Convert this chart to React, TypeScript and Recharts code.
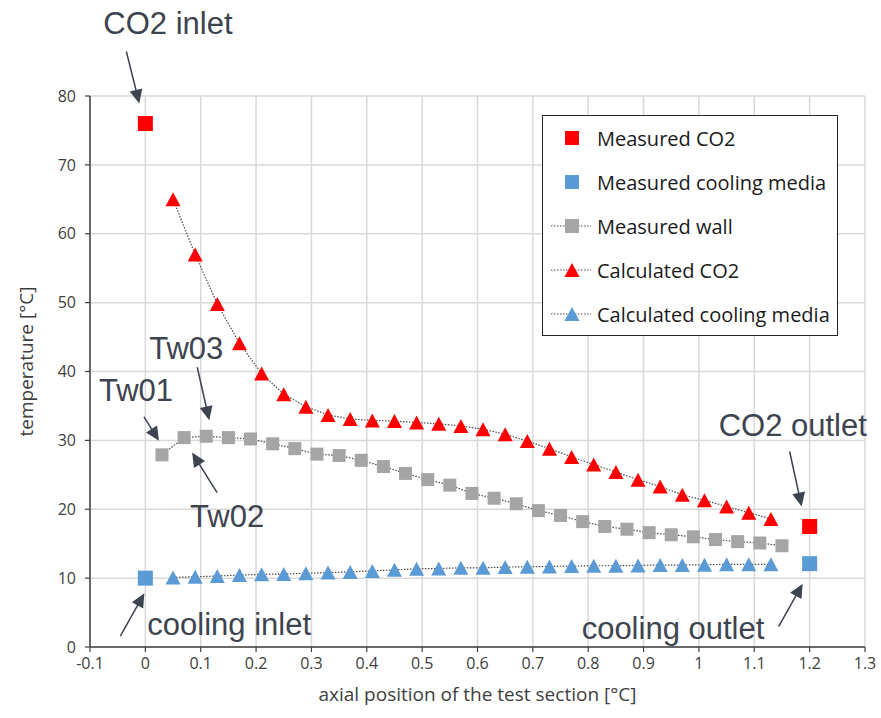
import React from "react";
import {
  ComposedChart,
  Scatter,
  XAxis,
  YAxis,
  CartesianGrid,
  Legend,
  Label,
  ReferenceDot,
} from "recharts";

// axis ticks
const xTicks = [-0.1, 0, 0.1, 0.2, 0.3, 0.4, 0.5, 0.6, 0.7, 0.8, 0.9, 1, 1.1, 1.2, 1.3];
const yTicks = [0, 10, 20, 30, 40, 50, 60, 70, 80];

// inlet / outlet measurements
const measuredPositions = [0, 1.2];
const measuredCO2 = [76, 17.5];
const measuredCooling = [10.0, 12.1];

// wall thermocouples Tw01 ... Tw29
const wallPositions = [
  0.03, 0.07, 0.11, 0.15, 0.19, 0.23, 0.27, 0.31, 0.35, 0.39, 0.43, 0.47, 0.51, 0.55, 0.59,
  0.63, 0.67, 0.71, 0.75, 0.79, 0.83, 0.87, 0.91, 0.95, 0.99, 1.03, 1.07, 1.11, 1.15,
];
const measuredWall = [
  27.9, 30.4, 30.6, 30.4, 30.2, 29.5, 28.8, 28.0, 27.8, 27.1, 26.2, 25.2, 24.3, 23.5, 22.3,
  21.6, 20.8, 19.8, 19.1, 18.2, 17.5, 17.1, 16.6, 16.3, 16.0, 15.6, 15.3, 15.1, 14.7,
];

// calculated bulk temperatures between the wall stations
const calcPositions = [
  0.05, 0.09, 0.13, 0.17, 0.21, 0.25, 0.29, 0.33, 0.37, 0.41, 0.45, 0.49, 0.53, 0.57,
  0.61, 0.65, 0.69, 0.73, 0.77, 0.81, 0.85, 0.89, 0.93, 0.97, 1.01, 1.05, 1.09, 1.13,
];
const calcCO2 = [
  65.0, 57.0, 49.8, 44.1, 39.7, 36.7, 34.9, 33.7, 33.1, 32.9, 32.8, 32.6, 32.4, 32.1,
  31.6, 30.9, 29.9, 28.8, 27.6, 26.5, 25.4, 24.3, 23.3, 22.1, 21.3, 20.4, 19.5, 18.6,
];
const calcCooling = [
  10.1, 10.2, 10.3, 10.45, 10.55, 10.6, 10.7, 10.8, 10.9, 11.05, 11.2, 11.35, 11.4, 11.5,
  11.5, 11.6, 11.65, 11.7, 11.75, 11.8, 11.8, 11.85, 11.9, 11.9, 11.95, 12.0, 12.0, 12.0,
];

const RED = "#ff0000";
const BLUE = "#5b9bd5";
const GREY = "#a5a5a5";
const INK = "#404040";
const NOTE = "#3d4450";
const SANS = "'Open Sans', sans-serif";

const zip = (xs: number[], ys: number[]) => xs.map((x, i) => ({ x, y: ys[i] }));

const dotted = { stroke: "#4a4a4a", strokeWidth: 1.2, strokeDasharray: "1.5 1.5" };

const square = (size: number, color: string) => (p: any) =>
  <rect x={p.cx - size / 2} y={p.cy - size / 2} width={size} height={size} fill={color} />;

const triangle = (w: number, h: number, color: string) => (p: any) =>
  <polygon
    points={`${p.cx},${p.cy - h / 2} ${p.cx + w / 2},${p.cy + h / 2} ${p.cx - w / 2},${p.cy + h / 2}`}
    fill={color}
  />;

// callouts: anchored on a data point, offsets in px for arrow tip, arrow tail and text
const notes = [
  { label: "CO2 inlet", x: 0, y: 76, tip: [-6, -20], tail: [-19, -72], text: [-42, -90] },
  { label: "Tw01", x: 0.03, y: 27.9, tip: [-3, -14], tail: [-18, -38], text: [-63, -54] },
  { label: "Tw03", x: 0.11, y: 30.6, tip: [3, -16], tail: [-9, -69], text: [-57, -77] },
  { label: "Tw02", x: 0.07, y: 30.4, tip: [8, 15], tail: [33, 55], text: [6, 89] },
  { label: "CO2 outlet", x: 1.2, y: 17.5, tip: [-8, -20], tail: [-20, -75], text: [-91, -90] },
  { label: "cooling inlet", x: 0, y: 10.0, tip: [-1, 15], tail: [-25, 58], text: [2, 57] },
  { label: "cooling outlet", x: 1.2, y: 12.1, tip: [-7, 20], tail: [-31, 63], text: [-228, 75] },
];

function Callout({ cx, cy, note }: any) {
  const tx = cx + note.tip[0];
  const ty = cy + note.tip[1];
  const sx = cx + note.tail[0];
  const sy = cy + note.tail[1];
  const len = Math.hypot(tx - sx, ty - sy);
  const ux = (tx - sx) / len;
  const uy = (ty - sy) / len;
  const hl = 14;
  const hw = 6.5;
  const bx = tx - ux * hl;
  const by = ty - uy * hl;
  const head = `${tx},${ty} ${bx - uy * hw},${by + ux * hw} ${bx + uy * hw},${by - ux * hw}`;
  return (
    <g>
      <line x1={sx} y1={sy} x2={bx + ux * 2} y2={by + uy * 2} stroke={NOTE} strokeWidth={1.5} />
      <polygon points={head} fill={NOTE} />
      <text
        x={cx + note.text[0]}
        y={cy + note.text[1]}
        fontSize={31}
        fontFamily="'Liberation Sans', Arial, sans-serif"
        fill={NOTE}
      >
        {note.label}
      </text>
    </g>
  );
}

const legendItems = [
  { name: "Measured CO2", color: RED, mark: "square", line: false },
  { name: "Measured cooling media", color: BLUE, mark: "square", line: false },
  { name: "Measured wall", color: GREY, mark: "square", line: true },
  { name: "Calculated CO2", color: RED, mark: "triangle", line: true },
  { name: "Calculated cooling media", color: BLUE, mark: "triangle", line: true },
];

function LegendBox() {
  return (
    <div
      style={{
        width: 296,
        height: 221,
        boxSizing: "border-box",
        border: "1.5px solid #262626",
        background: "#fff",
      }}
    >
      {legendItems.map((it) => (
        <div key={it.name} style={{ display: "flex", alignItems: "center", height: 44 }}>
          <svg width={48} height={20} style={{ marginLeft: 7, flex: "none" }}>
            {it.line && <line x1={1} y1={10} x2={41} y2={10} {...dotted} />}
            {it.mark === "square" ? (
              <rect x={15} y={3} width={14} height={14} fill={it.color} />
            ) : (
              <polygon points="22,3 29.5,17 14.5,17" fill={it.color} />
            )}
          </svg>
          <span style={{ fontFamily: SANS, fontSize: 20, color: "#1a1a1a", marginLeft: -1, whiteSpace: "nowrap" }}>
            {it.name}
          </span>
        </div>
      ))}
    </div>
  );
}

function YTitle({ viewBox }: any) {
  const cx = 26;
  const cy = viewBox.y + viewBox.height / 2 - 10;
  return (
    <text
      x={cx}
      y={cy}
      transform={`rotate(-90 ${cx} ${cy})`}
      textAnchor="middle"
      dominantBaseline="central"
      fontFamily={SANS}
      fontSize={19}
      fill={INK}
    >
      temperature [°C]
    </text>
  );
}

export default function App() {
  return (
    <div style={{ width: 881, height: 718, background: "#fff" }}>
      <style>{"body{margin:0}"}</style>
      <ComposedChart width={881} height={718} margin={{ top: 96, right: 16, bottom: 0, left: 0 }}>
        <CartesianGrid stroke="#d9d9d9" strokeWidth={1.5} />
        <XAxis
          type="number"
          dataKey="x"
          domain={[-0.1, 1.3]}
          ticks={xTicks}
          interval={0}
          allowDataOverflow
          tickFormatter={(v) => String(v)}
          height={71}
          tickSize={5}
          tickMargin={6}
          axisLine={{ stroke: INK, strokeWidth: 1.5 }}
          tickLine={{ stroke: INK, strokeWidth: 1.2 }}
          tick={{ fontSize: 16, fill: INK, fontFamily: SANS }}
        >
          <Label
            value="axial position of the test section [°C]"
            position="insideBottom"
            offset={17}
            style={{ fontSize: 19, fill: INK, fontFamily: SANS }}
          />
        </XAxis>
        <YAxis
          type="number"
          dataKey="y"
          domain={[0, 80]}
          ticks={yTicks}
          interval={0}
          allowDataOverflow
          width={90}
          tickSize={5}
          tickMargin={9}
          axisLine={{ stroke: INK, strokeWidth: 1.5 }}
          tickLine={{ stroke: INK, strokeWidth: 1.2 }}
          tick={{ fontSize: 16, fill: INK, fontFamily: SANS }}
        >
          <Label content={<YTitle />} />
        </YAxis>
        <Legend
          layout="vertical"
          align="center"
          verticalAlign="middle"
          content={() => <LegendBox />}
          wrapperStyle={{ left: 542, top: 115, width: 296, height: 221 }}
        />
        <Scatter
          name="Measured wall"
          data={zip(wallPositions, measuredWall)}
          line={dotted}
          lineJointType="linear"
          shape={square(13, GREY)}
          isAnimationActive={false}
        />
        <Scatter
          name="Calculated cooling media"
          data={zip(calcPositions, calcCooling)}
          line={dotted}
          lineJointType="linear"
          shape={triangle(15, 14, BLUE)}
          isAnimationActive={false}
        />
        <Scatter
          name="Calculated CO2"
          data={zip(calcPositions, calcCO2)}
          line={dotted}
          lineJointType="linear"
          shape={triangle(15, 14, RED)}
          isAnimationActive={false}
        />
        <Scatter
          name="Measured CO2"
          data={zip(measuredPositions, measuredCO2)}
          shape={square(15, RED)}
          isAnimationActive={false}
        />
        <Scatter
          name="Measured cooling media"
          data={zip(measuredPositions, measuredCooling)}
          shape={square(15, BLUE)}
          isAnimationActive={false}
        />
        {notes.map((n) => (
          <ReferenceDot
            key={n.label}
            x={n.x}
            y={n.y}
            r={0}
            ifOverflow="visible"
            shape={(p: any) => <Callout cx={p.cx} cy={p.cy} note={n} />}
          />
        ))}
      </ComposedChart>
    </div>
  );
}
